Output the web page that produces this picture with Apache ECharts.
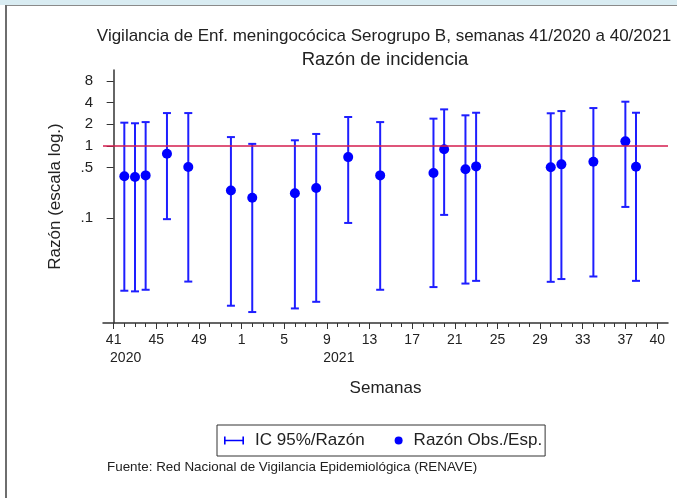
<!DOCTYPE html>
<html>
<head>
<meta charset="utf-8">
<script src="https://cdn.jsdelivr.net/npm/echarts@6/dist/echarts.min.js"></script>
<style>
  html, body { margin: 0; padding: 0; background: #fff; }
  #chart { width: 677px; height: 498px; }
</style>
</head>
<body>
<div id="chart"></div>
<script>
// week categories 41/2020 .. 40/2021
const weekLabels = ['41','42','43','44','45','46','47','48','49','50','51','52',
  '1','2','3','4','5','6','7','8','9','10','11','12','13','14','15','16','17','18','19','20',
  '21','22','23','24','25','26','27','28','29','30','31','32','33','34','35','36','37','38','39','40']
const xTickWeeks = ['41','45','49','1','5','9','13','17','21','25','29','33','37','40']
const yearLabels = { '41': '2020', '9': '2021' }
const yTicks = [0.1, 0.5, 1, 2, 4, 8]

// observed weeks, ratio obs/exp and 95% CI
const obsWeeks = ['42','43','44','46','48','52','2','6','8','11','14','19','20','22','23','30','31','34','37','38']
const ratio = [0.38, 0.37, 0.39, 0.78, 0.51, 0.24, 0.19, 0.22, 0.26, 0.70, 0.39, 0.42, 0.90, 0.475, 0.52, 0.505, 0.555, 0.605, 1.16, 0.515]
const ciLow = [0.0097, 0.0095, 0.0100, 0.096, 0.013, 0.006, 0.0049, 0.0055, 0.0068, 0.085, 0.0100, 0.0109, 0.110, 0.0122, 0.0133, 0.0129, 0.0141, 0.0153, 0.142, 0.0133]
const ciHigh = [2.11, 2.07, 2.15, 2.87, 2.87, 1.33, 1.07, 1.20, 1.47, 2.53, 2.15, 2.40, 3.23, 2.67, 2.90, 2.85, 3.06, 3.37, 4.13, 2.90]

const FONT = "'Liberation Sans', Arial, sans-serif"
const TXT = '#222'
const BLUE = '#0000ff'

const idx = w => weekLabels.indexOf(w)
const allIdx = weekLabels.map((w, i) => i)
const tickIdx = xTickWeeks.map(idx)
const yearIdx = Object.keys(yearLabels).map(idx)

const ciData = obsWeeks.map((w, i) => [idx(w), ciLow[i], ciHigh[i]])
const ratioData = obsWeeks.map((w, i) => [idx(w), ratio[i]])

const chart = echarts.init(document.getElementById('chart'))

chart.setOption({
  animation: false,
  textStyle: { fontFamily: FONT, color: TXT },
  graphic: [
    { type: 'rect', shape: { x: 0, y: 0, width: 677, height: 5 }, style: { fill: '#d9ecf2' } },
    { type: 'line', shape: { x1: 5, y1: 5.5, x2: 677, y2: 5.5 }, style: { stroke: '#8a8a8a', lineWidth: 1 } },
    { type: 'line', shape: { x1: 6, y1: 5, x2: 6, y2: 498 }, style: { stroke: '#6e6e6e', lineWidth: 2 } }
  ],
  title: [
    {
      text: 'Vigilancia de Enf. meningocócica Serogrupo B, semanas 41/2020 a 40/2021',
      left: 384, top: 28, textAlign: 'center', padding: 0,
      textStyle: { fontSize: 17, fontWeight: 'normal', color: TXT, fontFamily: FONT }
    },
    {
      text: 'Razón de incidencia',
      left: 385, top: 50, textAlign: 'center', padding: 0,
      textStyle: { fontSize: 18.5, fontWeight: 'normal', color: TXT, fontFamily: FONT }
    },
    {
      text: 'Fuente: Red Nacional de Vigilancia Epidemiológica (RENAVE)',
      left: 107, top: 461, padding: 0,
      textStyle: { fontSize: 13.4, fontWeight: 'normal', color: TXT, fontFamily: FONT }
    }
  ],
  legend: {
    left: 217, top: 425,
    padding: [7, 3, 7, 7],
    itemGap: 30,
    itemWidth: 20, itemHeight: 8,
    borderColor: '#333', borderWidth: 1, borderRadius: 0,
    textStyle: { fontSize: 17, color: TXT, fontFamily: FONT },
    data: [
      { name: 'IC 95%/Razón', icon: 'path://M0,0h1.6v8h-1.6z M0,3.2h20v1.6h-20z M18.4,0h1.6v8h-1.6z',
        textStyle: { padding: [0, 0, 0, 6] } },
      { name: 'Razón Obs./Esp.', icon: 'circle' }
    ]
  },
  grid: { left: 103, right: 9, top: 70, bottom: 175 },
  xAxis: [
    {
      type: 'value', min: -1, max: 52,
      name: 'Semanas', nameLocation: 'middle', nameGap: 57,
      nameTextStyle: { fontSize: 17, color: TXT },
      axisLine: { lineStyle: { color: '#333', width: 1.5 } },
      axisTick: { customValues: allIdx, length: 4, lineStyle: { color: '#333' } },
      axisLabel: { show: false },
      splitLine: { show: false }
    },
    {
      type: 'value', min: -1, max: 52, position: 'bottom',
      axisLine: { show: false },
      axisTick: { customValues: tickIdx, length: 6, lineStyle: { color: '#333' } },
      axisLabel: { customValues: tickIdx, formatter: v => weekLabels[v], fontSize: 14, color: TXT, margin: 10 },
      splitLine: { show: false }
    },
    {
      type: 'value', min: -1, max: 52, position: 'bottom', offset: 17,
      axisLine: { show: false },
      axisTick: { show: false },
      axisLabel: {
        customValues: yearIdx, formatter: v => yearLabels[weekLabels[v]],
        fontSize: 14, color: TXT, margin: 11, padding: [0, 0, 0, 24]
      },
      splitLine: { show: false }
    }
  ],
  yAxis: {
    type: 'log', logBase: 10, min: 0.00345, max: 11.4,
    name: 'Razón (escala log.)', nameLocation: 'middle', nameGap: 39,
    nameTextStyle: { fontSize: 17, color: TXT },
    axisLine: { show: true, lineStyle: { color: '#333', width: 1.5 } },
    axisTick: { show: true, customValues: yTicks, length: 7, lineStyle: { color: '#333' } },
    axisLabel: {
      customValues: yTicks, fontSize: 15, color: TXT, margin: 10,
      formatter: v => v < 1 ? String(v).replace('0.', '.') : String(v)
    },
    splitLine: { show: false }
  },
  series: [
    {
      name: 'IC 95%/Razón',
      type: 'custom',
      itemStyle: { color: BLUE },
      data: ciData,
      encode: { x: 0, y: [1, 2] },
      renderItem: (params, api) => {
        const x = api.value(0)
        const lo = api.coord([x, api.value(1)])
        const hi = api.coord([x, api.value(2)])
        const w = 4
        const st = { stroke: '#1e1eff', lineWidth: 2 }
        return {
          type: 'group',
          children: [
            { type: 'line', shape: { x1: lo[0], y1: lo[1], x2: hi[0], y2: hi[1] }, style: st },
            { type: 'line', shape: { x1: lo[0] - w, y1: lo[1], x2: lo[0] + w, y2: lo[1] }, style: st },
            { type: 'line', shape: { x1: hi[0] - w, y1: hi[1], x2: hi[0] + w, y2: hi[1] }, style: st }
          ]
        }
      },
      z: 2
    },
    {
      name: 'Razón Obs./Esp.',
      type: 'scatter',
      symbol: 'circle',
      symbolSize: 10,
      itemStyle: { color: BLUE, opacity: 1 },
      data: ratioData,
      z: 3,
      markLine: {
        silent: true,
        symbol: 'none',
        label: { show: false },
        lineStyle: { color: '#d41c4e', width: 1.5, type: 'solid' },
        data: [{ yAxis: 1 }]
      }
    }
  ]
})
</script>
</body>
</html>
